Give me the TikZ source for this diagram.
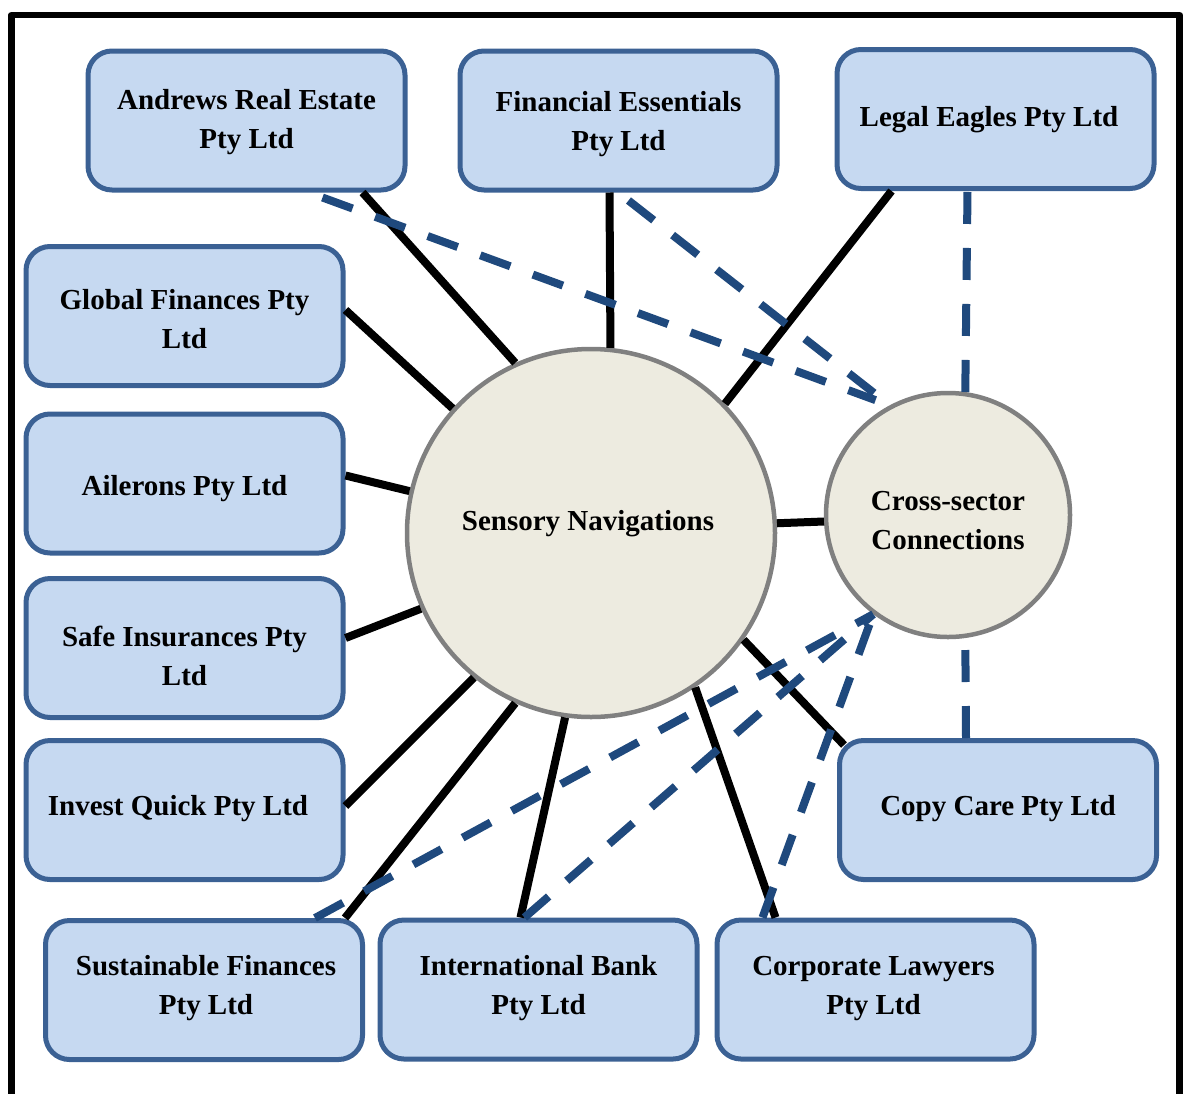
\documentclass[tikz,border=0pt]{standalone}
\usepackage{fontspec}
\setmainfont{Liberation Serif}
\usetikzlibrary{calc}
\definecolor{boxfill}{HTML}{C6D9F1}
\definecolor{boxline}{HTML}{3B6194}
\definecolor{dashblue}{HTML}{1F497D}
\definecolor{circfill}{HTML}{EDEBE0}
\definecolor{circline}{HTML}{808080}
\begin{document}
\begin{tikzpicture}[x=1pt,y=-1pt,
  font=\bfseries\fontsize{29}{39}\selectfont,
  company/.style={draw=boxline, fill=boxfill, line width=5pt, rounded corners=24pt,
    minimum width=317pt, minimum height=139pt, inner sep=0pt},
  tx/.style={align=center},
  hub/.style={circle, draw=circline, fill=circfill, line width=4.5pt, inner sep=0pt},
  tie/.style={line width=8pt, black},
  xlink/.style={line width=8pt, dashblue, dash pattern=on 32pt off 24pt}]
\useasboundingbox (0,0) rectangle (1183,1093);
% outer frame
\draw[line width=6.5pt, line join=round] (11.5,1100) -- (11.5,15) -- (1179.5,15) -- (1179.5,1100);
% nodes
\node[company, label={[tx,yshift=-2pt]center:Andrews Real Estate\\Pty Ltd}] (A) at (246.5,120.5) {};
\node[company, label={[tx,yshift=-3.5pt]center:Financial Essentials\\Pty Ltd}] (F) at (618.5,120.5) {};
\node[company, label={[tx,xshift=-6.5pt,yshift=-0.5pt]center:Legal Eagles Pty Ltd}] (L) at (995.5,119) {};
\node[company, label={[tx,yshift=-3pt]center:Global Finances Pty\\Ltd}] (G) at (184.5,316) {};
\node[company, label={[tx,yshift=-5pt]center:Ailerons Pty Ltd}] (Ai) at (184.5,483.5) {};
\node[company, label={[tx,yshift=-8pt]center:Safe Insurances Pty\\Ltd}] (Sa) at (184.5,648) {};
\node[company, label={[tx,xshift=-6.5pt,yshift=1pt]center:Invest Quick Pty Ltd}] (IQ) at (184.5,810) {};
\node[company, label={[tx,xshift=2pt,yshift=1.5pt]center:Sustainable Finances\\Pty Ltd}] (SF) at (204,990) {};
\node[company, label={[tx,yshift=1.5pt]center:International Bank\\Pty Ltd}] (IB) at (538.5,989.5) {};
\node[company, label={[tx,xshift=-2pt,yshift=0.5pt]center:Corporate Lawyers\\Pty Ltd}] (CL) at (875.5,989.5) {};
\node[company, label={[tx,yshift=1pt]center:Copy Care Pty Ltd}] (CC) at (998,810) {};
\node[hub, minimum size=368pt, label={[xshift=-3pt,yshift=9pt]center:Sensory Navigations}] (S) at (591,533) {};
\node[hub, minimum size=244pt, label={[tx,yshift=-6pt]center:Cross-sector\\Connections}] (C) at (948,515) {};
% solid connectors
\draw[tie] ($(A.south)+(116,0)$) -- (S.114.6);
\draw[tie] ($(F.south)+(-9,0)$) -- (S.84.5);
\draw[tie] ($(L.south)+(-104,0)$) -- (S.44.1);
\draw[tie] ($(G.east)+(0,-6)$) -- (S.138);
\draw[tie] ($(Ai.east)+(0,-8)$) -- (S.167.2);
\draw[tie] ($(Sa.east)+(0,-10)$) -- (S.204.2);
\draw[tie] ($(IQ.east)+(0,-4)$) -- (S.231.5);
\draw[tie] ($(SF.north)+(141,0)$) -- (S.246.2);
\draw[tie] ($(IB.north)+(-18,0)$) -- (S.262.6);
\draw[tie] ($(CL.north)+(-100,0)$) -- (S.304);
\draw[tie] ($(CC.north west)+(7,7)$) -- (S.-35.5);
\draw[tie] (S.3.1) -- (C.183.7);
% dashed connectors
\draw[xlink, shorten >=15pt] ($(A.south)+(76,5)$) -- (C.118.4);
\draw[xlink, shorten >=15pt] ($(F.south)+(10,8)$) -- (C.118.4);
\draw[xlink] (C.82.7) -- ($(L.south)+(-28,0)$);
\draw[xlink] ($(CC.north)+(-32,0)$) -- (C.-82.7);
\draw[xlink] ($(SF.north)+(111,0)$) -- (C.233.7);
\draw[xlink] ($(IB.north)+(-14,0)$) -- (C.233.7);
\draw[xlink] ($(CL.north)+(-113,0)$) -- (C.233.7);
\end{tikzpicture}
\end{document}
